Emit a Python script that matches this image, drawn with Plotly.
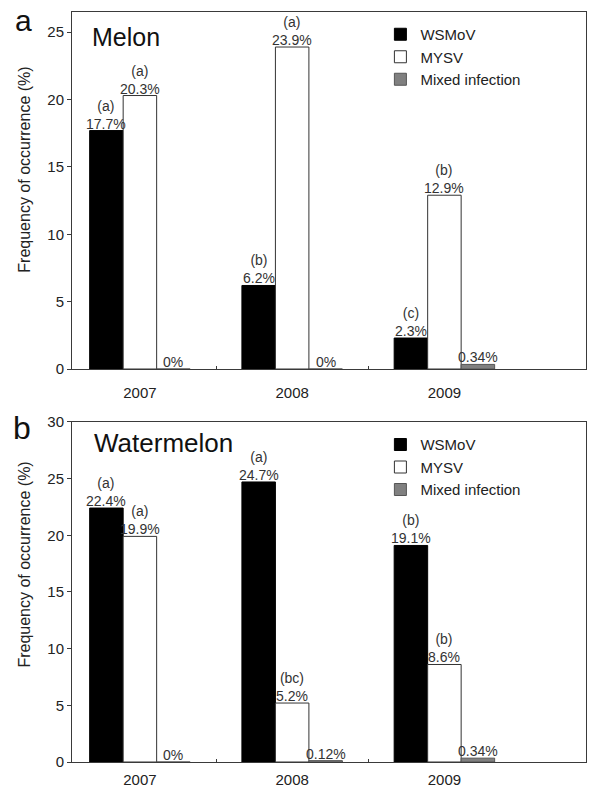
import plotly.graph_objects as go

years = ["2007", "2008", "2009"]
series = ["WSMoV", "MYSV", "Mixed infection"]

melon_wsmov = [17.7, 6.2, 2.3]
melon_mysv = [20.3, 23.9, 12.9]
melon_mixed = [0, 0, 0.34]
melon_wsmov_grp = ["(a)", "(b)", "(c)"]
melon_mysv_grp = ["(a)", "(a)", "(b)"]

water_wsmov = [22.4, 24.7, 19.1]
water_mysv = [19.9, 5.2, 8.6]
water_mixed = [0, 0.12, 0.34]
water_wsmov_grp = ["(a)", "(a)", "(b)"]
water_mysv_grp = ["(a)", "(bc)", "(b)"]

fills = ["#000000", "#ffffff", "#808080"]
lines = ["#000000", "#333333", "#555555"]
FONT = "Liberation Sans, Arial, sans-serif"
W = 0.22
offsets = [-1.5 * W, -0.5 * W, 0.5 * W]

fig = go.Figure()
xs = list(range(len(years)))

panels = [
    ("x", "y", "legend", [melon_wsmov, melon_mysv, melon_mixed], [melon_wsmov_grp, melon_mysv_grp, None]),
    ("x2", "y2", "legend2", [water_wsmov, water_mysv, water_mixed], [water_wsmov_grp, water_mysv_grp, None]),
]

annotations = []
for xa, ya, leg, vals, grps in panels:
    for i, name in enumerate(series):
        fig.add_trace(go.Bar(
            x=xs, y=vals[i], name=name, xaxis=xa, yaxis=ya, legend=leg,
            width=W, offset=offsets[i],
            marker=dict(color=fills[i], line=dict(color=lines[i], width=1)),
        ))
        for j, v in enumerate(vals[i]):
            txt = (f"{v:g}%" if grps[i] is None else f"{grps[i][j]}<br>{v:g}%")
            annotations.append(dict(
                x=j + offsets[i] + W / 2, y=v, xref=xa, yref=ya,
                text=txt, showarrow=False, yanchor="bottom", xanchor="center",
                font=dict(family=FONT, size=14, color="#333333"), yshift=-3,
            ))

# helpers: page pixel -> paper fraction (plot area spans x 72..587, y 11..763)
def px_y(py):
    return (763 - py) / 752

def px_x(pxx):
    return (pxx - 72) / 515

for txt, xx, yy, sz, anc in [("a", 23, 20, 30, "center"), ("b", 22, 428, 32, "center"),
                             ("Melon", 90, 36, 25, "left"), ("Watermelon", 92, 443, 26, "left")]:
    annotations.append(dict(x=px_x(xx), y=px_y(yy), xref="paper", yref="paper", text=txt,
                            showarrow=False, xanchor=anc, yanchor="middle",
                            font=dict(family=FONT, size=sz, color="#111111")))

for yy in (169, 565):
    annotations.append(dict(x=px_x(24), y=px_y(yy), xref="paper", yref="paper",
                            text="Frequency of occurrence (%)", textangle=-90,
                            showarrow=False, xanchor="center", yanchor="middle",
                            font=dict(family=FONT, size=16, color="#222222")))

axis_common = dict(showline=True, mirror=True, linecolor="#3a3a3a", linewidth=1,
                   showgrid=False, zeroline=False,
                   tickfont=dict(family=FONT, size=15, color="#222222"))

xaxis_common = dict(axis_common, range=[-0.446, 2.93], tickmode="array", tickvals=xs,
                    ticktext=years, ticks="",
                    minor=dict(tickmode="array", tickvals=[0.5, 1.5], ticks="inside",
                               ticklen=3, tickcolor="#3a3a3a"))

yaxis_common = dict(axis_common, dtick=5, ticks="outside", ticklen=4, tickcolor="#3a3a3a")

fig.update_layout(
    width=590, height=791,
    margin=dict(l=72, r=3, t=11, b=28),
    paper_bgcolor="white", plot_bgcolor="white",
    showlegend=True,
    xaxis=dict(xaxis_common, domain=[0, 1], anchor="y", ticklabelstandoff=10),
    yaxis=dict(yaxis_common, domain=[0.524, 1], range=[0, 26.5], anchor="x"),
    xaxis2=dict(xaxis_common, domain=[0, 1], anchor="y2", ticklabelstandoff=4),
    yaxis2=dict(yaxis_common, domain=[0, 0.4535], range=[0, 30], anchor="x2"),
    legend=dict(x=0.60, y=0.992, xanchor="left", yanchor="top", bgcolor="rgba(0,0,0,0)",
                font=dict(family=FONT, size=15, color="#222222")),
    legend2=dict(x=0.60, y=0.445, xanchor="left", yanchor="top", bgcolor="rgba(0,0,0,0)",
                 font=dict(family=FONT, size=15, color="#222222")),
    annotations=annotations,
)

# remove the default page margin so the 590x791 figure fills the window exactly
fig.write_html("out.html", config={"displayModeBar": False},
               post_script="document.body.style.margin='0';document.body.style.overflow='hidden';")
